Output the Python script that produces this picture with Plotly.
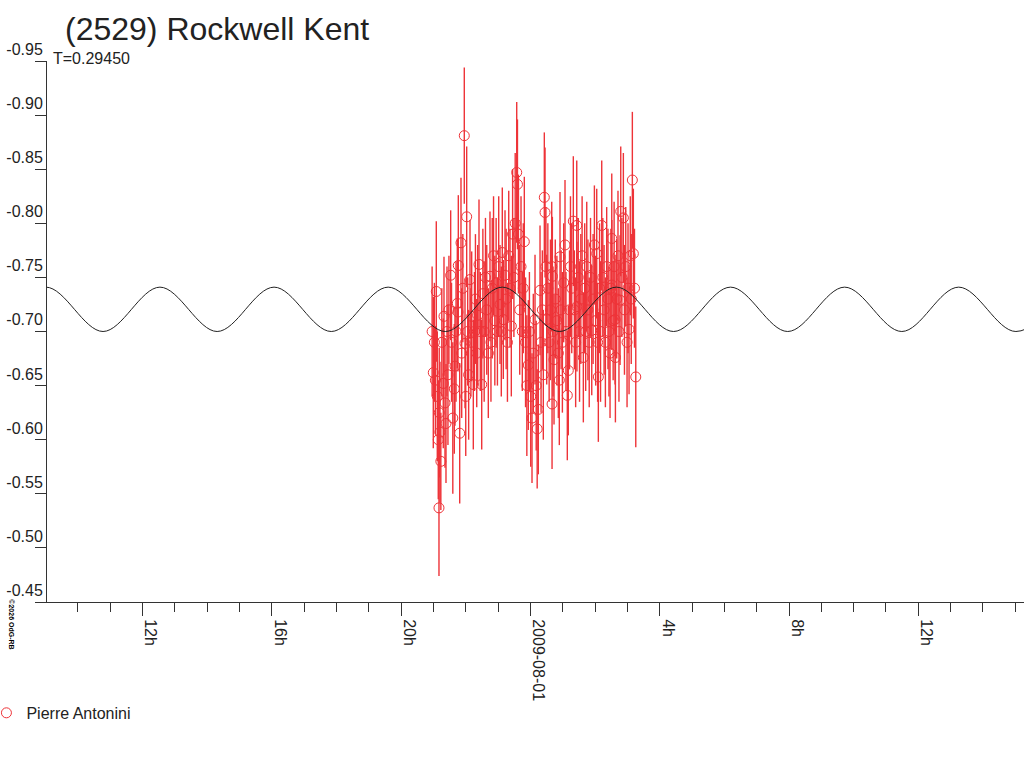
import pandas as pd
import plotly.graph_objects as go

# observation times in hours after 2009-07-31 00:00 UT, reduced magnitude and its error
obs_hours = [
    20.96, 20.996, 21.03, 21.06, 21.089, 21.12, 21.15, 21.172, 21.18, 21.203,
    21.23, 21.26, 21.305, 21.327, 21.358, 21.389, 21.42, 21.45, 21.48, 21.534,
    21.56, 21.60, 21.646, 21.667, 21.70, 21.739, 21.760, 21.770, 21.813, 21.853,
    21.875, 21.91, 21.955, 21.977, 22.00, 22.029, 22.06, 22.09, 22.132, 22.16,
    22.184, 22.234, 22.27, 22.30, 22.34, 22.37, 22.410, 22.45, 22.494, 22.53,
    22.57, 22.61, 22.65, 22.698, 22.750, 22.78, 22.82, 22.86, 22.90, 22.94,
    22.98, 23.02, 23.06, 23.10, 23.131, 23.162, 23.215, 23.25, 23.29, 23.33,
    23.37, 23.41, 23.45, 23.49, 23.53, 23.577, 23.60, 23.63, 23.67, 23.71,
    23.75, 23.78, 23.812, 23.85, 23.89, 23.936, 23.97, 24.01, 24.05, 24.09,
    24.143, 24.18, 24.21, 24.245, 24.298, 24.33, 24.37, 24.40, 24.431, 24.453,
    24.48, 24.505, 24.54, 24.58, 24.62, 24.660, 24.67, 24.68, 24.70, 24.731,
    24.77, 24.82, 24.864, 24.895, 24.916, 24.95, 24.99, 25.03, 25.071, 25.10,
    25.142, 25.173, 25.21, 25.24, 25.279, 25.328, 25.36, 25.40, 25.434, 25.44,
    25.48, 25.52, 25.56, 25.60, 25.638, 25.68, 25.71, 25.743, 25.78, 25.82,
    25.86, 25.898, 25.94, 25.98, 26.02, 26.052, 26.08, 26.102, 26.14, 26.17,
    26.207, 26.24, 26.28, 26.32, 26.36, 26.40, 26.43, 26.464, 26.49, 26.517,
    26.52, 26.56, 26.59, 26.619, 26.63, 26.67, 26.71, 26.74, 26.774, 26.795,
    26.83, 26.876, 26.91, 26.95, 26.99, 27.02, 27.052, 27.09, 27.12, 27.154,
    27.185, 27.22, 27.260,
]
obs_mag = [
    -0.700, -0.662, -0.690, -0.655, -0.737, -0.640, -0.600, -0.537, -0.625, -0.607,
    -0.580, -0.690, -0.652, -0.714, -0.634, -0.615, -0.700, -0.660, -0.720, -0.752,
    -0.690, -0.620, -0.647, -0.668, -0.700, -0.726, -0.718, -0.761, -0.606, -0.782,
    -0.680, -0.740, -0.881, -0.689, -0.640, -0.806, -0.700, -0.660, -0.748, -0.690,
    -0.714, -0.651, -0.700, -0.730, -0.680, -0.715, -0.762, -0.700, -0.651, -0.735,
    -0.700, -0.750, -0.720, -0.680, -0.751, -0.690, -0.740, -0.770, -0.710, -0.745,
    -0.700, -0.760, -0.725, -0.700, -0.773, -0.711, -0.752, -0.730, -0.690, -0.770,
    -0.740, -0.705, -0.790, -0.750, -0.800, -0.847, -0.836, -0.790, -0.720, -0.760,
    -0.700, -0.740, -0.783, -0.690, -0.650, -0.669, -0.700, -0.640, -0.620, -0.680,
    -0.711, -0.650, -0.610, -0.628, -0.738, -0.690, -0.720, -0.660, -0.824, -0.810,
    -0.760, -0.711, -0.740, -0.690, -0.720, -0.760, -0.633, -0.751, -0.700, -0.674,
    -0.730, -0.710, -0.680, -0.655, -0.769, -0.720, -0.690, -0.745, -0.780, -0.700,
    -0.641, -0.664, -0.720, -0.760, -0.740, -0.802, -0.720, -0.690, -0.798, -0.723,
    -0.750, -0.700, -0.730, -0.770, -0.676, -0.740, -0.700, -0.760, -0.720, -0.690,
    -0.750, -0.701, -0.730, -0.780, -0.710, -0.772, -0.690, -0.658, -0.740, -0.700,
    -0.798, -0.750, -0.720, -0.690, -0.760, -0.730, -0.700, -0.680, -0.740, -0.786,
    -0.743, -0.710, -0.760, -0.711, -0.676, -0.730, -0.770, -0.700, -0.729, -0.811,
    -0.750, -0.805, -0.720, -0.760, -0.690, -0.740, -0.702, -0.770, -0.730, -0.840,
    -0.772, -0.740, -0.658,
]
obs_err = [
    0.060, 0.070, 0.055, 0.050, 0.065, 0.060, 0.055, 0.063, 0.060, 0.065,
    0.045, 0.050, 0.060, 0.055, 0.060, 0.055, 0.060, 0.065, 0.050, 0.060,
    0.055, 0.070, 0.060, 0.055, 0.065, 0.060, 0.055, 0.065, 0.065, 0.060,
    0.060, 0.050, 0.063, 0.060, 0.055, 0.065, 0.050, 0.060, 0.055, 0.050,
    0.060, 0.060, 0.055, 0.060, 0.050, 0.065, 0.060, 0.055, 0.060, 0.060,
    0.065, 0.055, 0.060, 0.060, 0.060, 0.055, 0.065, 0.055, 0.060, 0.060,
    0.050, 0.065, 0.055, 0.060, 0.060, 0.055, 0.060, 0.065, 0.055, 0.060,
    0.055, 0.065, 0.060, 0.055, 0.065, 0.065, 0.060, 0.055, 0.060, 0.065,
    0.055, 0.060, 0.060, 0.060, 0.065, 0.060, 0.055, 0.065, 0.060, 0.055,
    0.060, 0.060, 0.055, 0.060, 0.060, 0.065, 0.055, 0.060, 0.060, 0.060,
    0.055, 0.060, 0.060, 0.055, 0.065, 0.060, 0.060, 0.055, 0.060, 0.060,
    0.055, 0.060, 0.060, 0.060, 0.060, 0.055, 0.065, 0.055, 0.060, 0.055,
    0.060, 0.060, 0.055, 0.065, 0.060, 0.060, 0.055, 0.060, 0.060, 0.060,
    0.055, 0.065, 0.060, 0.055, 0.060, 0.060, 0.055, 0.060, 0.065, 0.060,
    0.055, 0.060, 0.060, 0.055, 0.060, 0.060, 0.055, 0.060, 0.060, 0.065,
    0.060, 0.055, 0.060, 0.060, 0.055, 0.065, 0.060, 0.060, 0.055, 0.060,
    0.060, 0.055, 0.060, 0.060, 0.060, 0.055, 0.060, 0.065, 0.060, 0.060,
    0.055, 0.060, 0.060, 0.055, 0.060, 0.060, 0.060, 0.055, 0.060, 0.063,
    0.060, 0.055, 0.065,
]

# fitted lightcurve: maxima / minima (hours, mag)
fit_hours = [7.25, 9.01, 10.78, 12.54, 14.31, 16.07, 17.84, 19.60, 21.37, 23.13,
             24.90, 26.66, 28.43, 30.19, 31.96, 33.72, 35.49, 37.25, 39.02, 40.79]
fit_mag = [-0.700, -0.741, -0.700, -0.741, -0.700, -0.741, -0.700, -0.741, -0.700, -0.741,
           -0.700, -0.741, -0.700, -0.741, -0.700, -0.741, -0.700, -0.741, -0.700, -0.741]

tick_hours = [12, 16, 20, 24, 28, 32, 36]
tick_text = ["12h", "16h", "20h", "2009-08-01", "4h", "8h", "12h"]
y_ticks = [-0.95, -0.90, -0.85, -0.80, -0.75, -0.70, -0.65, -0.60, -0.55, -0.50, -0.45]

base = pd.Timestamp("2009-07-31 00:00")
to_time = lambda hrs: base + pd.to_timedelta(pd.Series(hrs), unit="h")

RED = "#ee3338"
FONT = "Liberation Sans"

fig = go.Figure()

fig.add_trace(go.Scatter(
    x=to_time(obs_hours), y=obs_mag, mode="markers", name="Pierre Antonini",
    marker=dict(symbol="circle-open", size=10, color=RED, line=dict(width=1, color=RED)),
    error_y=dict(type="data", array=obs_err, color=RED, thickness=1.4, width=0),
))
fig.add_trace(go.Scatter(
    x=to_time(fit_hours), y=fit_mag, mode="lines", showlegend=False,
    line=dict(color="#222222", width=1, shape="spline"),
))

fig.update_layout(
    width=1024, height=768,
    margin=dict(l=47, r=0, t=61, b=166, pad=0, autoexpand=False),
    plot_bgcolor="white", paper_bgcolor="white",
    font=dict(family=FONT, size=16, color="#222222"),
    title=dict(text="(2529) Rockwell Kent", font=dict(size=32, color="#222222"),
               xref="container", yref="container", x=65 / 1024, y=1 - 29 / 768,
               xanchor="left", yanchor="middle"),
    showlegend=True,
    legend=dict(xref="paper", yref="paper", x=-0.062, y=-0.205,
                xanchor="left", yanchor="middle", bgcolor="rgba(0,0,0,0)",
                font=dict(size=16)),
    annotations=[
        dict(text="T=0.29450", xref="paper", yref="paper", x=0.004, y=1.0055,
             xanchor="left", yanchor="middle", showarrow=False, font=dict(size=16)),
        dict(text="<b>©2026 OdG-RB</b>", xref="paper", yref="paper", x=-0.042, y=-0.092,
             textangle=90, showarrow=False, font=dict(size=7, color="#000000")),
    ],
)

fig.update_xaxes(
    type="date",
    range=[base + pd.Timedelta(hours=9.046), base + pd.Timedelta(hours=39.27)],
    tickvals=list(to_time(tick_hours)), ticktext=tick_text,
    ticks="outside", ticklen=13, tickwidth=1, tickcolor="#333333",
    tickangle=90, ticklabelshift=8, ticklabelstandoff=0,
    minor=dict(dtick=3600000, tick0="2009-07-31", ticks="outside", ticklen=9,
               tickwidth=1, tickcolor="#333333", showgrid=False),
    showline=True, linecolor="#333333", linewidth=1,
    showgrid=False, zeroline=False,
)
fig.update_yaxes(
    range=[-0.45, -0.95], tickvals=y_ticks, ticktext=[f"{v:.2f}" for v in y_ticks],
    ticks="outside", ticklen=11, tickwidth=1, tickcolor="#333333",
    ticklabelposition="outside top",
    showline=True, linecolor="#333333", linewidth=1,
    showgrid=False, zeroline=False,
)

fig.write_html("out.html", config={"displayModeBar": False},
               post_script="document.body.style.margin='0';")
